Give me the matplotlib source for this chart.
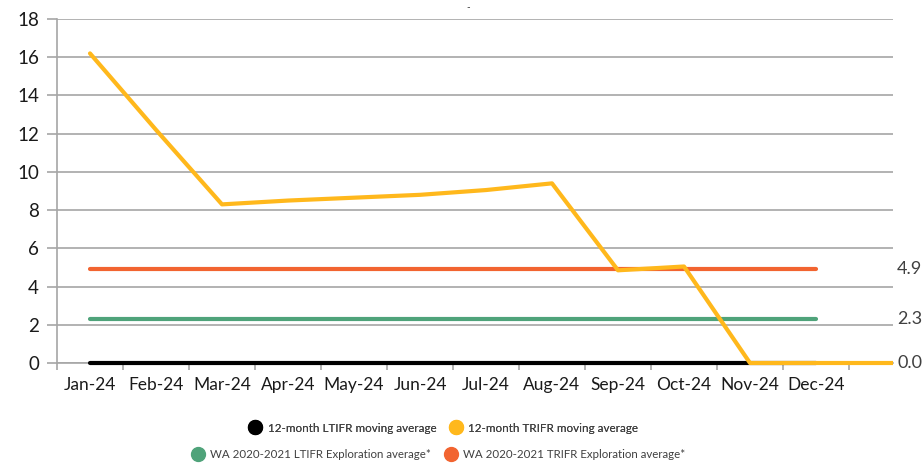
import matplotlib
matplotlib.use("Agg")
import matplotlib.pyplot as plt
from matplotlib.lines import Line2D
from matplotlib.transforms import Bbox, TransformedBbox
import numpy as np

months = ["Jan-24", "Feb-24", "Mar-24", "Apr-24", "May-24", "Jun-24", "Jul-24",
          "Aug-24", "Sep-24", "Oct-24", "Nov-24", "Dec-24", "", ""]
ltifr = [0, 0, 0, 0, 0, 0, 0, 0, 0, 0, 0, 0]
trifr = [16.2, 12.2, 8.3, 8.5, 8.65, 8.8, 9.05, 9.4, 4.85, 5.05, 0, 0, 0, 0]
wa_ltifr = [2.3] * 12
wa_trifr = [4.9] * 12
end_labels = ["4.9", "2.3", "0.0"]
end_values = [4.9, 2.3, 0.0]

C_BLACK = "#000000"
C_ORANGE = "#FFB81C"
C_GREEN = "#4FA37A"
C_RED = "#F26430"
GRID = "#A6A6A6"
FONT = "Lato"

plt.rcParams["font.family"] = [FONT, "DejaVu Sans"]

fig = plt.figure(figsize=(9.24, 4.67), dpi=100)
ax = fig.add_axes([57/924, 1 - 363/467, (893-57)/924, (363-19)/467])

clip = TransformedBbox(Bbox([[0, -0.05], [1, 1.05]]), ax.transAxes)

x = np.arange(len(months)) + 0.5
lw = 3.0
lines = []
lines += ax.plot(x[:len(ltifr)], ltifr, color=C_BLACK, lw=lw, solid_capstyle="round", zorder=3)
lines += ax.plot(x[:len(wa_ltifr)], wa_ltifr, color=C_GREEN, lw=lw, solid_capstyle="round", zorder=3)
lines += ax.plot(x[:len(wa_trifr)], wa_trifr, color=C_RED, lw=lw, solid_capstyle="round", zorder=3)
lines += ax.plot(x[:len(trifr)], trifr, color=C_ORANGE, lw=lw, solid_capstyle="round", zorder=4)
for ln in lines:
    ln.set_clip_box(clip)

ax.set_xlim(0, (893-57)/66)
ax.set_ylim(0, 18)
ax.set_yticks(np.arange(0, 19, 2))
ax.yaxis.grid(True, color=GRID, lw=1.2)
ax.set_axisbelow(True)

ax.set_xticks(np.arange(0, 13))
ax.set_xticklabels([])
ax.set_xticks(x[:12], minor=True)
ax.set_xticklabels(months[:12], minor=True, fontsize=12.5, color="#1a1a1a")
ax.tick_params(axis="x", which="minor", length=0, pad=10)
ax.tick_params(axis="x", which="major", length=5, color=GRID, width=1.2)
ax.tick_params(axis="y", length=7, color=GRID, width=1.2, labelsize=13.5, labelcolor="#1a1a1a", pad=6)

for s in ["top", "right"]:
    ax.spines[s].set_visible(False)
ax.spines["left"].set_color(GRID)
ax.spines["left"].set_linewidth(1.2)
ax.spines["bottom"].set_color(GRID)
ax.spines["bottom"].set_linewidth(1.2)

for lab, v in zip(end_labels, end_values):
    ax.annotate(lab, xy=(1, v), xycoords=("axes fraction", "data"),
                xytext=(3, 0), textcoords="offset points",
                ha="left", va="center", fontsize=13, color="#404040",
                annotation_clip=False)

fig.text(468/924, 1 - 8/467, "-", ha="center", va="center", fontsize=7, color="#333333")

def h(c):
    return Line2D([], [], marker="o", ls="none", markersize=10, markerfacecolor=c,
                  markeredgecolor=c)

leg1 = fig.legend([h(C_BLACK), h(C_ORANGE)],
                  ["12-month LTIFR moving average", "12-month TRIFR moving average"],
                  loc="center", bbox_to_anchor=(441/924, 1 - 428/467), ncol=2,
                  frameon=False, fontsize=8.4, handletextpad=0.05, columnspacing=0.7,
                  labelcolor="#404040")
leg2 = fig.legend([h(C_GREEN), h(C_RED)],
                  ["WA 2020-2021 LTIFR Exploration average*", "WA 2020-2021 TRIFR Exploration average*"],
                  loc="center", bbox_to_anchor=(436/924, 1 - 455/467), ncol=2,
                  frameon=False, fontsize=8.3, handletextpad=0.05, columnspacing=0.7,
                  labelcolor="#404040")
fig.add_artist(leg1)

fig.savefig("out.png", dpi=100)
